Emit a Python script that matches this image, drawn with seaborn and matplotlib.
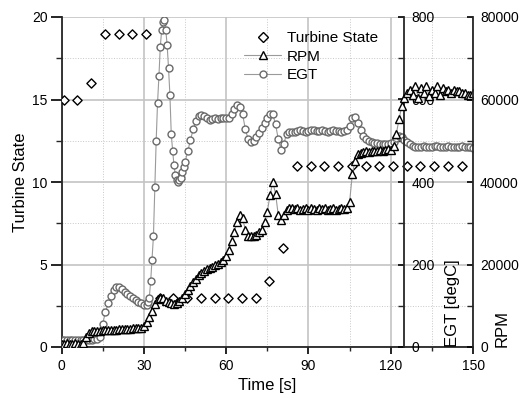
import numpy as np
import pandas as pd
import matplotlib
matplotlib.use('Agg')
import matplotlib.pyplot as plt
from matplotlib.lines import Line2D
from matplotlib.ticker import MultipleLocator
import seaborn as sns

# Turbine state, sampled every 5 s
state_time = [0.8, 5.8, 10.8, 15.8, 20.8, 25.8, 30.8, 35.8, 40.8, 45.8,
              50.8, 55.8, 60.8, 65.8, 70.8, 75.8, 80.8, 85.8, 90.8, 95.8,
              100.8, 105.8, 110.8, 115.8, 120.8, 125.8, 130.8, 135.8, 140.8, 145.8]
state_value = [15, 15, 16, 19, 19, 19, 19, 3, 3, 3,
               3, 3, 3, 3, 3, 4, 6, 11, 11, 11,
               11, 11, 11, 11, 11, 11, 11, 11, 11, 11]

# RPM, 1 s samples
rpm_time = list(range(0, 151))
rpm_value = [800, 800, 900, 800, 800, 900, 800, 800, 1000, 2400,
             3400, 3800, 4000, 4000, 4000, 4100, 4100, 4100, 4200, 4200,
             4200, 4300, 4300, 4300, 4400, 4400, 4500, 4500, 4600, 4700,
             5200, 6000, 7200, 8800, 10400, 11600, 12000, 11800, 11200, 10800,
             10600, 10400, 10600, 11200, 12000, 12800, 13800, 14800, 15800, 16600,
             17400, 18000, 18400, 18800, 19100, 19500, 19900, 20200, 20600, 21200,
             22000, 23600, 25600, 28000, 30400, 32000, 31200, 28400, 27000, 26800,
             27000, 27200, 27800, 28400, 30400, 32800, 36800, 40000, 37200, 32000,
             30800, 32000, 33200, 33600, 33600, 33400, 33600, 33200, 33400, 33600,
             33200, 33600, 33400, 33200, 33600, 33400, 33600, 33200, 33400, 33600,
             33200, 33400, 33600, 33400, 33600, 35200, 42000, 45200, 46800, 47000,
             47200, 47400, 47200, 47600, 47400, 47600, 47800, 47600, 47800, 48000,
             47800, 48800, 51600, 55200, 58400, 60400, 61600, 62400, 61200, 63200,
             60400, 62800, 61600, 63200, 60800, 62400, 61600, 63200, 61200, 62800,
             62000, 62400, 61600, 62400, 62000, 62000, 61600, 61600, 61200, 61200,
             61600]

# EGT, 1 s samples with 0.5 s samples through the light-off spike
egt_time = [0, 1, 2, 3, 4, 5, 6, 7, 8, 9, 10, 11, 12, 13, 14, 15, 16, 17, 18, 19,
            20, 21, 22, 23, 24, 25, 26, 27, 28, 29, 30, 31,
            31.5, 32, 32.5, 33, 33.5, 34, 34.5, 35, 35.5, 36, 36.5, 37, 37.5, 38,
            38.5, 39, 39.5, 40, 40.5, 41, 41.5, 42, 42.5, 43, 43.5, 44, 44.5, 45,
            46, 47, 48, 49, 50, 51, 52, 53, 54, 55, 56, 57, 58, 59, 60, 61, 62, 63,
            64, 65, 66, 67, 68, 69, 70, 71, 72, 73, 74, 75, 76, 77, 78, 79, 80, 81,
            82, 83, 84, 85, 86, 87, 88, 89, 90, 91, 92, 93, 94, 95, 96, 97, 98, 99,
            100, 101, 102, 103, 104, 105, 106, 107, 108, 109, 110, 111, 112, 113,
            114, 115, 116, 117, 118, 119, 120, 121, 122, 123, 124, 125, 126, 127,
            128, 129, 130, 131, 132, 133, 134, 135, 136, 137, 138, 139, 140, 141,
            142, 143, 144, 145, 146, 147, 148, 149, 150]
egt_value = [17, 17, 18, 17, 17, 18, 17, 17, 18, 17, 18, 18, 19, 20, 25, 56, 84, 106, 124, 138,
             145, 146, 140, 134, 128, 124, 118, 114, 110, 106, 102, 102,
             108, 120, 160, 212, 268, 388, 500, 592, 656, 728, 768, 788, 792, 768,
             732, 676, 612, 516, 476, 440, 416, 404, 400, 404, 410, 424, 436, 448,
             474, 502, 528, 548, 560, 562, 560, 554, 550, 552, 554, 552, 554, 556, 554, 556, 564, 578,
             586, 582, 564, 528, 504, 496, 500, 510, 518, 530, 542, 554, 564, 564, 540, 504, 478, 492,
             516, 522, 520, 522, 524, 526, 524, 522, 524, 526, 526, 524, 524, 526, 524, 522, 524, 526,
             524, 524, 522, 524, 526, 536, 554, 558, 544, 526, 512, 504, 500, 496,
             494, 494, 492, 492, 492, 492, 494, 498, 506, 512, 510, 502, 496, 492,
             488, 486, 484, 486, 488, 486, 484, 486, 488, 488, 486, 484, 486, 488,
             486, 484, 484, 486, 488, 486, 484, 484, 482]

state_df = pd.DataFrame({'Time': state_time, 'State': state_value})
rpm_df = pd.DataFrame({'Time': rpm_time, 'RPM': rpm_value})
egt_df = pd.DataFrame({'Time': egt_time, 'EGT': egt_value})

sns.set_theme(style='ticks')
plt.rcParams['font.family'] = ['Liberation Sans', 'DejaVu Sans']
plt.rcParams['axes.linewidth'] = 1.3
plt.rcParams['text.color'] = 'black'
plt.rcParams['axes.labelcolor'] = 'black'

fig = plt.figure(figsize=(5.28, 4.0), dpi=100)
ax = fig.add_axes([0.1165, 0.1325, 0.7795, 0.825])
ax_egt = ax.twinx()
ax_rpm = ax.twinx()

grid_major = '#c4c4c4'
egt_edge = '#6a6a6a'
line_grey = '#9a9a9a'

# turbine state on the left axis
sns.scatterplot(data=state_df, x='Time', y='State', ax=ax, marker='D', s=22,
                facecolor='white', edgecolor='black', linewidth=1.0, zorder=3)
ax.set_xlim(0, 150)
ax.set_ylim(0, 20)
ax.xaxis.set_major_locator(MultipleLocator(30))
ax.xaxis.set_minor_locator(MultipleLocator(15))
ax.yaxis.set_major_locator(MultipleLocator(5))
ax.yaxis.set_minor_locator(MultipleLocator(2.5))
ax.grid(which='major', color=grid_major, lw=1.2, ls='-')
ax.grid(which='minor', color='#c8c8c8', lw=0.7, ls=':')
ax.set_axisbelow(True)
ax.spines['top'].set_visible(False)
ax.spines['right'].set_visible(False)
ax.tick_params(axis='y', which='major', direction='out', length=8, width=1.2, pad=2, labelsize=10, colors='black')
ax.tick_params(axis='y', which='minor', direction='out', length=4, width=1.0)
ax.tick_params(axis='x', which='major', direction='out', length=5, width=1.2, pad=4, labelsize=10, colors='black')
ax.tick_params(axis='x', which='minor', direction='out', length=3, width=1.0)
ax.set_xlabel('Time [s]', fontsize=12, labelpad=3, color='black')
ax.set_ylabel('Turbine State', fontsize=12, labelpad=3, color='black')

# EGT on an inner axis at t = 125 s
sns.lineplot(data=egt_df, x='Time', y='EGT', ax=ax_egt, sort=False, estimator=None,
             color=line_grey, lw=0.8, marker='o', markersize=5,
             markerfacecolor='white', markeredgecolor=egt_edge, markeredgewidth=1.0)
ax_egt.set_ylim(0, 800)
ax_egt.yaxis.set_major_locator(MultipleLocator(200))
ax_egt.yaxis.set_minor_locator(MultipleLocator(100))
for side in ['top', 'left', 'bottom']:
    ax_egt.spines[side].set_visible(False)
ax_egt.spines['right'].set_position(('data', 125))
ax_egt.tick_params(axis='y', which='major', direction='in', length=4, width=1.2, pad=5, labelsize=10, colors='black')
ax_egt.tick_params(axis='y', which='minor', direction='in', length=4, width=1.0)
ax_egt.set_ylabel('EGT [degC]', fontsize=12, loc='bottom', color='black')
ax_egt.yaxis.set_label_coords(0.932, 0.0)
ax_egt.grid(False)

# RPM on the outer right axis
sns.lineplot(data=rpm_df, x='Time', y='RPM', ax=ax_rpm, sort=False, estimator=None,
             color=line_grey, lw=0.8, marker='^', markersize=5.5,
             markerfacecolor='white', markeredgecolor='black', markeredgewidth=1.0)
ax_rpm.set_ylim(0, 80000)
ax_rpm.yaxis.set_major_locator(MultipleLocator(20000))
ax_rpm.yaxis.set_minor_locator(MultipleLocator(10000))
for side in ['top', 'left', 'bottom']:
    ax_rpm.spines[side].set_visible(False)
ax_rpm.tick_params(axis='y', which='major', direction='in', length=4, width=1.2, pad=5, labelsize=10, colors='black')
ax_rpm.tick_params(axis='y', which='minor', direction='in', length=4, width=1.0)
ax_rpm.set_ylabel('RPM', fontsize=12, loc='bottom', color='black')
ax_rpm.yaxis.set_label_coords(1.053, 0.0)
ax_rpm.grid(False)
ax_rpm.set_xlim(0, 150)

handles = [
    Line2D([], [], ls='none', marker='D', ms=5, mfc='white', mec='black', mew=1.0),
    Line2D([], [], color=line_grey, lw=0.8, marker='^', ms=5.5, mfc='white', mec='black', mew=1.0),
    Line2D([], [], color=line_grey, lw=0.8, marker='o', ms=5, mfc='white', mec=egt_edge, mew=1.0),
]
ax_rpm.legend(handles, ['Turbine State', 'RPM', 'EGT'], loc='upper left',
              bbox_to_anchor=(0.418, 0.99), frameon=False, fontsize=11,
              handlelength=2.4, handletextpad=0.4, labelspacing=0.3, borderpad=0.2)

fig.savefig('out.png', dpi=100)
